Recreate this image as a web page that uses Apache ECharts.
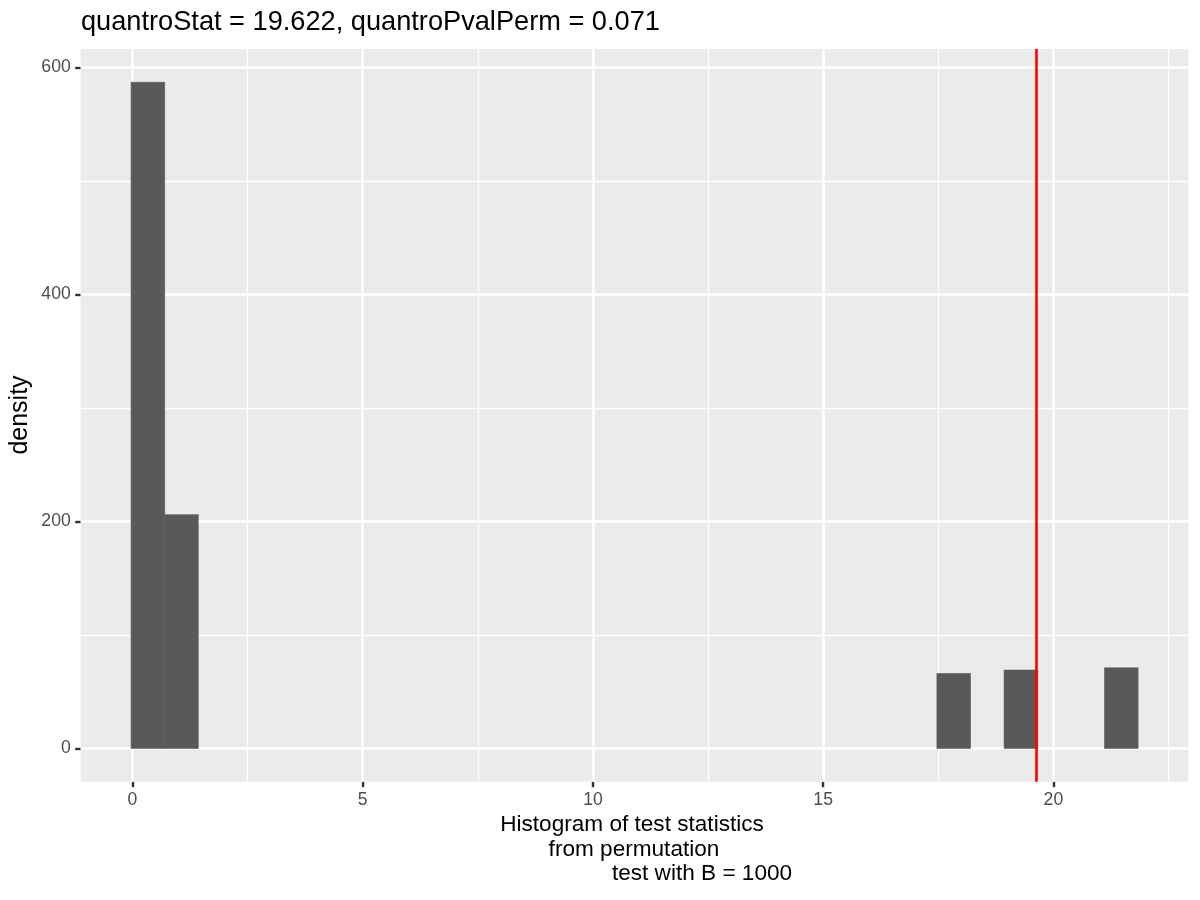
<!DOCTYPE html>
<html>
<head>
<meta charset="utf-8">
<title>quantro permutation histogram</title>
<script src="https://cdn.jsdelivr.net/npm/echarts@6.0.0/dist/echarts.min.js"></script>
<style>
  html, body { margin: 0; padding: 0; background: #ffffff; }
  #main { width: 1200px; height: 900px; }
</style>
</head>
<body>
<div id="main"></div>
<script>
// histogram bins: left edge, right edge, height
var binStart = [-0.03, 0.70, 17.47, 18.93, 21.11];
var binEnd   = [0.70, 1.43, 18.20, 19.66, 21.84];
var binValue = [587, 206, 66, 69, 71];

var quantroStat = 19.622;

var xTicks = [0, 5, 10, 15, 20];
var xMinor = [2.5, 7.5, 12.5, 17.5, 22.5];
var yTicks = [0, 200, 400, 600];
var yMinor = [100, 300, 500];

var titleText = 'quantroStat = 19.622, quantroPvalPerm = 0.071';
var xTitleLines = ['Histogram of test statistics', 'from permutation', 'test with B = 1000'];
var yTitle = 'density';

var FONT = '"Liberation Sans", Arial, Helvetica, sans-serif';

var chart = echarts.init(document.getElementById('main'), null, { renderer: 'canvas' });

var bins = binStart.map(function (s, i) { return [s, binEnd[i], binValue[i]]; });

function gridLines(vals, axis, width) {
  return vals.map(function (v) {
    var d = {};
    d[axis] = v;
    d.lineStyle = { width: width };
    return d;
  });
}

function axisText(text, x, y) {
  return {
    type: 'text',
    style: { text: text, x: x, y: y, textAlign: 'center', textVerticalAlign: 'middle', fontSize: 22.6, fontFamily: FONT, fill: '#000' }
  };
}

chart.setOption({
  animation: false,
  backgroundColor: '#ffffff',
  title: {
    text: titleText,
    left: 76,
    top: 4,
    textStyle: { fontFamily: FONT, fontSize: 27.2, fontWeight: 'normal', color: '#000000' }
  },
  grid: {
    left: 80.7, right: 11.7, top: 49, bottom: 118.3,
    show: true, backgroundColor: '#EBEBEB', borderWidth: 0
  },
  xAxis: {
    type: 'value',
    min: -1.124, max: 22.93,
    axisLine: { show: false, onZero: false },
    splitLine: { show: false },
    axisTick: { show: true, length: 5.5, customValues: xTicks, lineStyle: { color: '#333333', width: 2.4 } },
    axisLabel: { customValues: xTicks, margin: 9, color: '#4D4D4D', fontSize: 17.6, fontFamily: FONT }
  },
  yAxis: {
    type: 'value',
    min: -29.35, max: 616.35,
    axisLine: { show: false, onZero: false },
    splitLine: { show: false },
    axisTick: { show: true, length: 5.5, customValues: yTicks, lineStyle: { color: '#333333', width: 2.4 } },
    axisLabel: { customValues: yTicks, margin: 10, color: '#4D4D4D', fontSize: 17.6, fontFamily: FONT }
  },
  graphic: [
    axisText(xTitleLines[0], 632, 825),
    axisText(xTitleLines[1], 634, 850),
    axisText(xTitleLines[2], 702, 874),
    {
      type: 'text', x: 20, y: 415, rotation: Math.PI / 2,
      style: { text: yTitle, x: 0, y: 0, textAlign: 'center', textVerticalAlign: 'middle', fontSize: 25, fontFamily: FONT, fill: '#000' }
    }
  ],
  series: [
    {
      // panel grid lines (major and minor), drawn under the bars
      type: 'line',
      data: [],
      silent: true,
      markLine: {
        z: 1,
        silent: true,
        symbol: 'none',
        label: { show: false },
        animation: false,
        lineStyle: { color: '#ffffff', type: 'solid' },
        data: gridLines(xMinor, 'xAxis', 1.3)
          .concat(gridLines(yMinor, 'yAxis', 1.3))
          .concat(gridLines(xTicks, 'xAxis', 2.6))
          .concat(gridLines(yTicks, 'yAxis', 2.6))
      }
    },
    {
      type: 'custom',
      z: 3,
      silent: true,
      data: bins,
      encode: { x: [0, 1], y: 2 },
      renderItem: function (params, api) {
        var p0 = api.coord([api.value(0), api.value(2)]);
        var p1 = api.coord([api.value(1), 0]);
        return {
          type: 'rect',
          shape: { x: p0[0], y: p0[1], width: p1[0] - p0[0], height: p1[1] - p0[1] },
          style: { fill: '#595959', stroke: '#595959', lineWidth: 0.6 }
        };
      }
    },
    {
      type: 'line',
      data: [],
      silent: true,
      markLine: {
        z: 6,
        silent: true,
        symbol: 'none',
        label: { show: false },
        animation: false,
        lineStyle: { color: '#FF0000', width: 2.6, type: 'solid' },
        data: [{ xAxis: quantroStat }]
      }
    }
  ]
});
</script>
</body>
</html>
